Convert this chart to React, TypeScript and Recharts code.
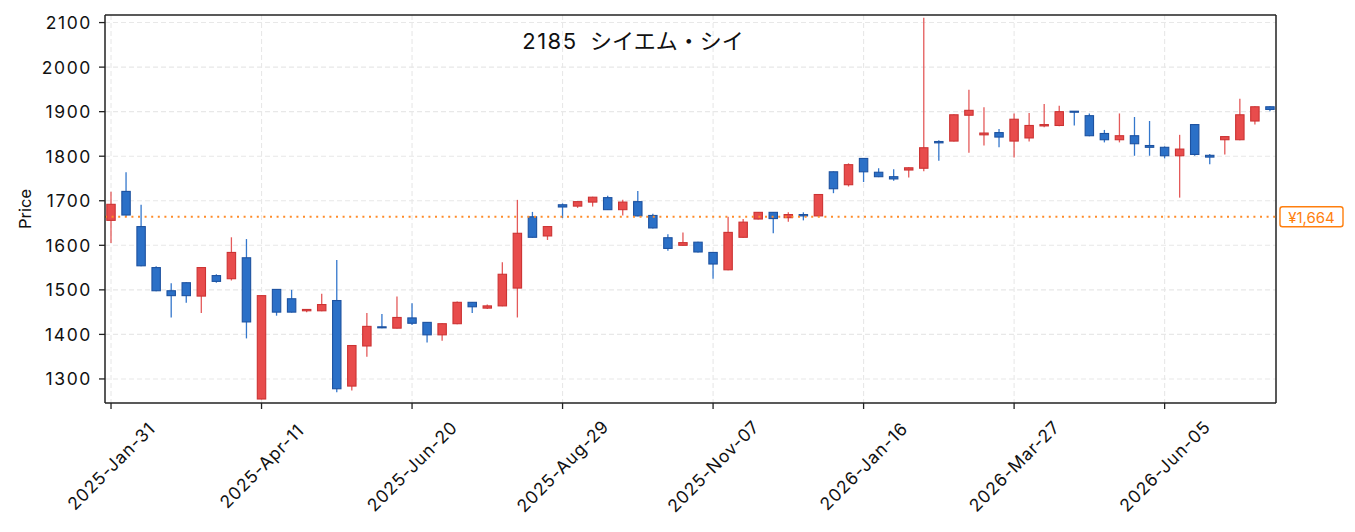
import React from 'react';
import { ComposedChart, Bar, XAxis, YAxis, CartesianGrid, ReferenceLine } from 'recharts';

const dates = [
  '2025-Jan-31','2025-Feb-07','2025-Feb-14','2025-Feb-21','2025-Feb-28','2025-Mar-07','2025-Mar-14','2025-Mar-21','2025-Mar-28','2025-Apr-04',
  '2025-Apr-11','2025-Apr-18','2025-Apr-25','2025-May-02','2025-May-09','2025-May-16','2025-May-23','2025-May-30','2025-Jun-06','2025-Jun-13',
  '2025-Jun-20','2025-Jun-27','2025-Jul-04','2025-Jul-11','2025-Jul-18','2025-Jul-25','2025-Aug-01','2025-Aug-08','2025-Aug-15','2025-Aug-22',
  '2025-Aug-29','2025-Sep-05','2025-Sep-12','2025-Sep-19','2025-Sep-26','2025-Oct-03','2025-Oct-10','2025-Oct-17','2025-Oct-24','2025-Oct-31',
  '2025-Nov-07','2025-Nov-14','2025-Nov-21','2025-Nov-28','2025-Dec-05','2025-Dec-12','2025-Dec-19','2025-Dec-26','2026-Jan-02','2026-Jan-09',
  '2026-Jan-16','2026-Jan-23','2026-Jan-30','2026-Feb-06','2026-Feb-13','2026-Feb-20','2026-Feb-27','2026-Mar-06','2026-Mar-13','2026-Mar-20',
  '2026-Mar-27','2026-Apr-03','2026-Apr-10','2026-Apr-17','2026-Apr-24','2026-May-01','2026-May-08','2026-May-15','2026-May-22','2026-May-29',
  '2026-Jun-05','2026-Jun-12','2026-Jun-19','2026-Jun-26','2026-Jul-03','2026-Jul-10','2026-Jul-17','2026-Jul-24',
];

const opens = [
  1656,1721,1642,1550,1498,1516,1486,1532,1525,1572,
  1255,1501,1480,1453,1453,1476,1284,1374,1417,1414,
  1437,1427,1399,1424,1472,1459,1464,1504,1664,1621,
  1691,1688,1697,1707,1680,1698,1667,1617,1600,1607,
  1584,1545,1618,1659,1674,1662,1669,1666,1765,1736,
  1795,1764,1754,1769,1773,1833,1834,1892,1848,1853,
  1834,1841,1868,1869,1901,1891,1851,1837,1846,1824,
  1820,1801,1871,1802,1837,1837,1879,1911,
];
const highs = [
  1720,1764,1691,1553,1515,1517,1551,1535,1618,1614,
  1488,1501,1500,1456,1491,1567,1376,1448,1446,1485,
  1470,1428,1425,1474,1473,1467,1562,1702,1675,1643,
  1694,1699,1709,1711,1702,1722,1671,1625,1629,1608,
  1585,1664,1659,1675,1675,1674,1674,1715,1766,1784,
  1796,1773,1771,1775,2111,1836,1894,1949,1910,1861,
  1896,1897,1917,1913,1901,1896,1859,1896,1888,1879,
  1822,1848,1872,1805,1845,1929,1912,1912,
];
const lows = [
  1605,1665,1553,1497,1438,1471,1448,1516,1521,1391,
  1254,1442,1449,1450,1452,1270,1274,1350,1414,1413,
  1421,1382,1386,1423,1448,1457,1463,1438,1617,1612,
  1661,1684,1687,1679,1667,1665,1638,1588,1599,1584,
  1525,1544,1617,1658,1627,1653,1656,1665,1717,1732,
  1742,1753,1745,1752,1766,1790,1833,1808,1824,1820,
  1797,1833,1865,1867,1869,1845,1831,1831,1801,1801,
  1795,1707,1801,1782,1804,1836,1871,1901,
];
const closes = [
  1692,1668,1554,1498,1487,1487,1550,1519,1584,1428,
  1487,1450,1450,1456,1467,1278,1375,1418,1415,1438,
  1425,1399,1424,1472,1462,1464,1535,1627,1618,1642,
  1686,1698,1708,1680,1697,1666,1639,1593,1606,1585,
  1558,1629,1652,1674,1660,1669,1666,1714,1727,1781,
  1765,1754,1749,1774,1819,1830,1893,1903,1852,1843,
  1883,1869,1871,1900,1899,1846,1837,1846,1828,1820,
  1801,1816,1804,1798,1844,1893,1911,1905,
];

const tickIndices = [0, 10, 20, 30, 40, 50, 60, 70];
const yTicks = [1300, 1400, 1500, 1600, 1700, 1800, 1900, 2000, 2100];
const lastPrice = 1664;
const titleCode = '2185';
const titleName = 'シイエム・シイ';

const Y_MIN = 1246;
const Y_MAX = 2117;
const X_MIN = -0.4;
const X_MAX = 77.4;

const data = dates.map((d, i) => ({
  idx: i,
  date: d,
  open: opens[i],
  high: highs[i],
  low: lows[i],
  close: closes[i],
  range: [lows[i], highs[i]],
}));

const FONT = 'Inter, "Noto Sans CJK JP", sans-serif';

const UP_FILL = '#e84c4c';
const UP_EDGE = '#cc3333';
const UP_WICK = '#e45a5a';
const DOWN_FILL = '#2b70c7';
const DOWN_EDGE = '#1d52a0';
const DOWN_WICK = '#3477cc';

const Candle = (props: any) => {
  const { x, y, width, height, payload } = props;
  if (payload == null || height == null) return null;
  const { open, close, high, low } = payload;
  const cx = x + width / 2;
  const span = high - low;
  const py = (v: number) => (span === 0 ? y : y + ((high - v) / span) * height);
  const up = close >= open;
  const top = py(Math.max(open, close));
  let bot = py(Math.min(open, close));
  if (bot - top < 1) bot = top + 1;
  const bw = 8.4;
  return (
    <g>
      <line x1={cx} x2={cx} y1={y} y2={y + height} stroke={up ? UP_WICK : DOWN_WICK} strokeWidth={1.3} />
      <rect
        x={cx - bw / 2}
        y={top}
        width={bw}
        height={bot - top}
        fill={up ? UP_FILL : DOWN_FILL}
        stroke={up ? UP_EDGE : DOWN_EDGE}
        strokeWidth={1.1}
      />
    </g>
  );
};

const XTick = (props: any) => {
  const { x, payload } = props;
  const label = dates[payload.value] ?? '';
  return (
    <text
      transform={`translate(${x},466) rotate(-45)`}
      textAnchor="middle"
      dominantBaseline="central"
      fontSize={17.5}
      letterSpacing={0.8}
      fontFamily={FONT}
      fill="#111"
    >
      {label}
    </text>
  );
};

const YTick = (props: any) => {
  const { x, y, payload } = props;
  return (
    <text x={x} y={y} textAnchor="end" dominantBaseline="central" fontSize={17.5} letterSpacing={1.6} fontFamily={FONT} fill="#111">
      {payload.value}
    </text>
  );
};

const PriceLabel = (props: any) => {
  const vb = props.viewBox || {};
  const x0 = (vb.x ?? 0) + (vb.width ?? 0) + 4;
  const yc = vb.y ?? 0;
  const w = 63;
  const h = 20;
  return (
    <g>
      <rect x={x0} y={yc - h / 2} width={w} height={h} rx={2.5} fill="#fff" stroke="#ff7f0e" strokeWidth={1.4} />
      <text x={x0 + w / 2} y={yc + 0.5} textAnchor="middle" dominantBaseline="central" fontSize={15} fontFamily={FONT} fill="#ff7f0e">
        ¥{lastPrice.toLocaleString('en-US')}
      </text>
    </g>
  );
};

export default function App() {
  return (
    <div style={{ position: 'absolute', left: 0, top: 0, width: 1355, height: 532, background: '#fff' }}>
      <ComposedChart
        width={1355}
        height={532}
        data={data}
        margin={{ top: 15, right: 79, bottom: 0, left: 0 }}
      >
        <CartesianGrid stroke="#e8e8e8" strokeDasharray="5 3" strokeWidth={1.1} verticalValues={tickIndices} horizontalValues={yTicks} />
        <XAxis
          dataKey="idx"
          type="number"
          domain={[X_MIN, X_MAX]}
          ticks={tickIndices}
          allowDataOverflow
          height={129}
          tick={<XTick />}
          tickSize={6}
          tickLine={{ stroke: '#222', strokeWidth: 1.3 }}
          axisLine={{ stroke: '#222', strokeWidth: 1.5 }}
          interval={0}
        />
        <YAxis
          type="number"
          domain={[Y_MIN, Y_MAX]}
          ticks={yTicks}
          allowDataOverflow
          width={105}
          tickSize={6}
          tickMargin={7}
          tick={<YTick />}
          tickLine={{ stroke: '#222', strokeWidth: 1.3 }}
          axisLine={{ stroke: '#222', strokeWidth: 1.5 }}
          label={{ value: 'Price', angle: -90, position: 'insideLeft', offset: 25, style: { fontSize: 16.5, fontFamily: FONT, fill: '#111', textAnchor: 'middle' } }}
        />
        <ReferenceLine y={Y_MAX} stroke="#222" strokeWidth={1.5} />
        <ReferenceLine x={X_MAX} stroke="#222" strokeWidth={1.5} />
        <ReferenceLine
          y={lastPrice}
          stroke="#ff8c2a"
          strokeWidth={2}
          strokeDasharray="2 4.6"
          label={<PriceLabel />}
        />
        <Bar dataKey="range" barSize={9} shape={<Candle />} isAnimationActive={false} />
        <text x={633} y={41} textAnchor="middle" dominantBaseline="central" fontSize={22} fontFamily={FONT} fill="#111" style={{ whiteSpace: 'pre' }}>
          <tspan letterSpacing={1.5}>{titleCode}</tspan>
          <tspan>{'  ' + titleName}</tspan>
        </text>
      </ComposedChart>
    </div>
  );
}
